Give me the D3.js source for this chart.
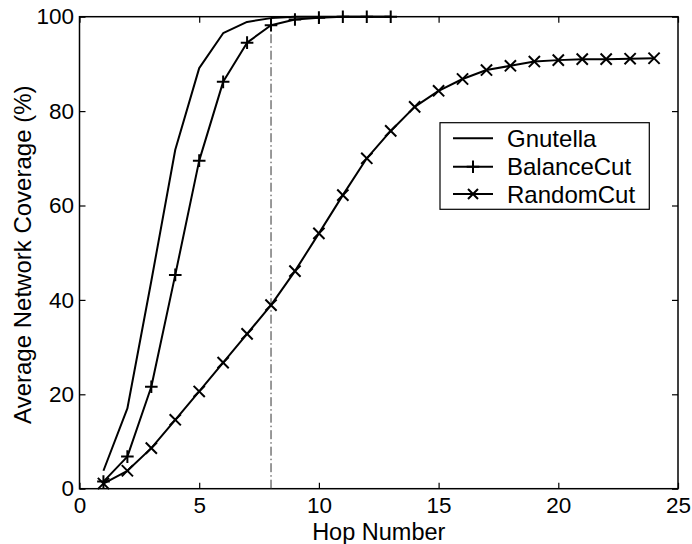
<!DOCTYPE html>
<html>
<head>
<meta charset="utf-8">
<script src="https://cdn.jsdelivr.net/npm/d3@7"></script>
<style>
  body { margin: 0; background: #fff; }
  svg { display: block; }
  text { font-family: "Liberation Sans", Arial, Helvetica, sans-serif; fill: #000; }
</style>
</head>
<body>
<svg id="chart" width="692" height="544"></svg>
<script>
const hops = d3.range(1, 25); // 1..24
const gnutella = [3.8, 17, 44, 71.8, 89.1, 96.5, 98.9, 99.7, 100, 100, 100, 100, 100];
const balanceCut = [1.5, 6.8, 21.6, 45.3, 69.5, 86.2, 94.5, 98.2, 99.4, 99.8, 100, 100, 100];
const randomCut = [1.1, 3.8, 8.6, 14.6, 20.6, 26.7, 32.8, 38.9, 46.1, 54.1, 62.2, 70, 75.8, 80.9, 84.3, 86.8, 88.7, 89.6, 90.5, 90.8, 91.0, 91.0, 91.1, 91.2];
const xTicks = [0, 5, 10, 15, 20, 25];
const yTicks = [0, 20, 40, 60, 80, 100];
const markerLine = 8;
const seriesNames = ["Gnutella", "BalanceCut", "RandomCut"];

const svg = d3.select("#chart");
const L = 79.5, R = 678, T = 16.7, B = 488.7;
const x = d3.scaleLinear().domain([0, 25]).range([L, R]);
const y = d3.scaleLinear().domain([0, 100]).range([B, T]);

// box
svg.append("rect").attr("x", L).attr("y", T).attr("width", R - L).attr("height", B - T)
  .attr("fill", "none").attr("stroke", "#000").attr("stroke-width", 1.5);

// axes with inward ticks
const tickLen = 6;
const gx = svg.append("g").attr("transform", `translate(0,${B})`)
  .call(d3.axisBottom(x).tickValues(xTicks).tickSize(-tickLen).tickPadding(8.5).tickFormat(d3.format("d")));
const gxt = svg.append("g").attr("transform", `translate(0,${T})`)
  .call(d3.axisTop(x).tickValues(xTicks).tickSize(-tickLen).tickFormat(""));
const gy = svg.append("g").attr("transform", `translate(${L},0)`)
  .call(d3.axisLeft(y).tickValues(yTicks).tickSize(-tickLen).tickPadding(5.5).tickFormat(d3.format("d")));
const gyr = svg.append("g").attr("transform", `translate(${R},0)`)
  .call(d3.axisRight(y).tickValues(yTicks).tickSize(-tickLen).tickFormat(""));
[gx, gxt, gy, gyr].forEach(g => {
  g.select(".domain").remove();
  g.selectAll(".tick line").attr("stroke", "#000").attr("stroke-width", 1.2);
  g.selectAll("text").style("font-size", "22.5px").attr("fill", "#000");
});
gx.selectAll("text").attr("dy", "0.71em");

// dash-dot vertical line at hop 8
svg.append("line")
  .attr("x1", x(markerLine)).attr("x2", x(markerLine)).attr("y1", y(0)).attr("y2", y(100))
  .attr("stroke", "#333").attr("stroke-width", 1).attr("stroke-dasharray", "9,3,1.5,3");

const line = d3.line().x((d, i) => x(hops[i])).y(d => y(d));

function plus(g, cx, cy, s) {
  g.append("path").attr("d", `M${cx - s},${cy}H${cx + s}M${cx},${cy - s}V${cy + s}`)
    .attr("stroke", "#000").attr("stroke-width", 2).attr("fill", "none");
}
function cross(g, cx, cy, s) {
  g.append("path").attr("d", `M${cx - s},${cy - s}L${cx + s},${cy + s}M${cx - s},${cy + s}L${cx + s},${cy - s}`)
    .attr("stroke", "#000").attr("stroke-width", 2).attr("fill", "none");
}

const plotG = svg.append("g");
[gnutella, balanceCut, randomCut].forEach(arr => {
  plotG.append("path").datum(arr).attr("d", line)
    .attr("fill", "none").attr("stroke", "#000").attr("stroke-width", 2).attr("stroke-linejoin", "round");
});
balanceCut.forEach((v, i) => plus(plotG, x(hops[i]), y(v), 6.3));
randomCut.forEach((v, i) => cross(plotG, x(hops[i]), y(v), 5.6));

// legend
const lg = svg.append("g");
lg.append("rect").attr("x", 440).attr("y", 122.7).attr("width", 209.3).attr("height", 86.6)
  .attr("fill", "#fff").attr("stroke", "#000").attr("stroke-width", 1.2);
const rowsY = [138.3, 166.7, 194];
seriesNames.forEach((name, i) => {
  const ry = rowsY[i];
  lg.append("line").attr("x1", 453).attr("x2", 493).attr("y1", ry).attr("y2", ry)
    .attr("stroke", "#000").attr("stroke-width", 2);
  if (i === 1) plus(lg, 473, ry, 6.3);
  if (i === 2) cross(lg, 473, ry, 5);
  lg.append("text").attr("x", 507).attr("y", ry).attr("dy", "0.36em")
    .style("font-size", "24px").text(name);
});

// axis labels
svg.append("text").attr("x", (L + R) / 2).attr("y", 539.5).attr("text-anchor", "middle")
  .style("font-size", "23.5px").text("Hop Number");
svg.append("text").attr("transform", `translate(31,${(T + B) / 2 + 2}) rotate(-90)`)
  .attr("text-anchor", "middle").style("font-size", "24px").text("Average Network Coverage (%)");
</script>
</body>
</html>
